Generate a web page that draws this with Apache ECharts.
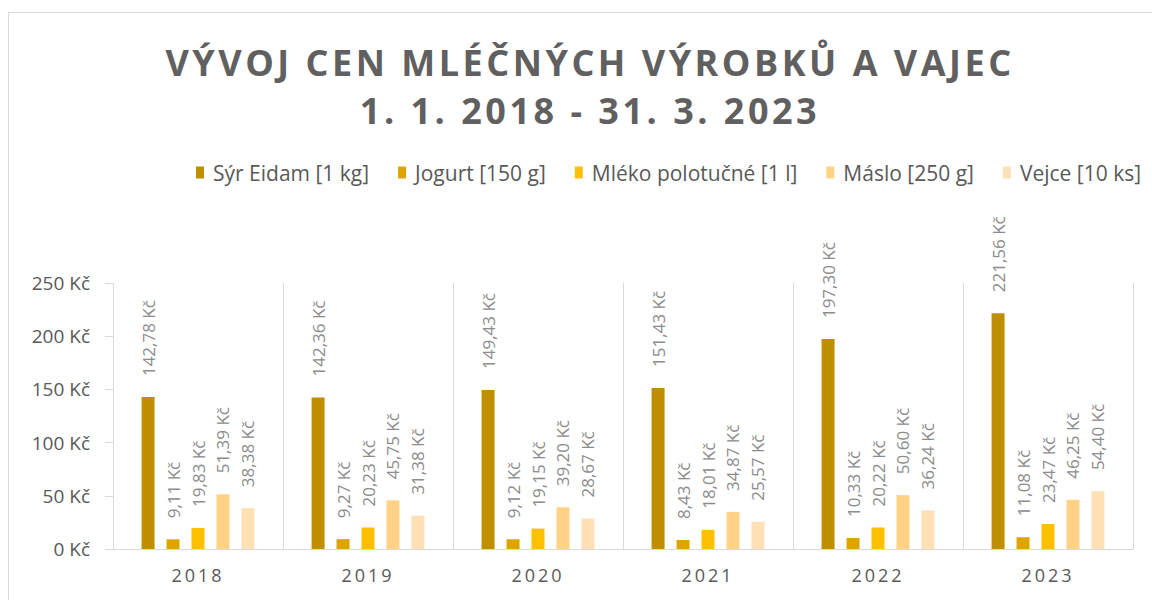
<!DOCTYPE html>
<html>
<head>
<meta charset="utf-8">
<script src="https://cdn.jsdelivr.net/npm/echarts@6/dist/echarts.min.js"></script>
<style>
	html, body { margin: 0; padding: 0; background: #fff; }
	#chart { width: 1152px; height: 600px; }
	.frame { position: absolute; left: 8px; top: 12px; width: 1200px; height: 700px; border: 1px solid #D9D9D9; pointer-events: none; }
</style>
</head>
<body>
<div class="frame"></div>
<div id="chart"></div>
<script>
	// data
	const years = ['2018', '2019', '2020', '2021', '2022', '2023'];
	const seriesNames = ['Sýr Eidam [1 kg]', 'Jogurt [150 g]', 'Mléko polotučné [1 l]', 'Máslo [250 g]', 'Vejce [10 ks]'];
	const syr = [142.78, 142.36, 149.43, 151.43, 197.30, 221.56];
	const jogurt = [9.11, 9.27, 9.12, 8.43, 10.33, 11.08];
	const mleko = [19.83, 20.23, 19.15, 18.01, 20.22, 23.47];
	const maslo = [51.39, 45.75, 39.20, 34.87, 50.60, 46.25];
	const vejce = [38.38, 31.38, 28.67, 25.57, 36.24, 54.40];
	const colors = ['#BF8F00', '#DEA500', '#FFC000', '#FFD286', '#FFE1B5'];
	const titleLines = ['VÝVOJ CEN MLÉČNÝCH VÝROBKŮ A VAJEC', '1. 1. 2018 - 31. 3. 2023'];

	const font = '"Open Sans", "DejaVu Sans", sans-serif';
	const kc = v => v.toFixed(2).replace('.', ',') + ' Kč';

	const allData = [syr, jogurt, mleko, maslo, vejce];

	let option = {
		animation: false,
		color: colors,
		title: {
			text: titleLines.join('\n'),
			left: 585,
			textAlign: 'center',
			top: 33,
			textStyle: {
				fontFamily: font,
				fontWeight: 'bold',
				fontSize: 36,
				lineHeight: 48,
				color: '#606060'
			}
		},
		legend: {
			data: seriesNames,
			left: 191,
			top: 157,
			itemWidth: 8,
			itemHeight: 12,
			itemGap: 29,
			icon: 'rect',
			textStyle: {
				fontFamily: font,
				fontSize: 21,
				color: '#595959',
				padding: [0, 0, 0, 4]
			}
		},
		grid: {
			left: 113,
			right: 19,
			top: 283,
			bottom: 51,
			containLabel: false
		},
		xAxis: {
			type: 'category',
			data: years,
			axisLine: { lineStyle: { color: '#D9D9D9', width: 1 } },
			axisTick: { show: false },
			splitLine: { show: true, interval: 0, lineStyle: { color: '#D9D9D9', width: 1 } },
			axisLabel: {
				fontFamily: font,
				fontSize: 18,
				color: '#595959',
				margin: 17
			}
		},
		yAxis: {
			type: 'value',
			min: 0,
			max: 250,
			interval: 50,
			axisLine: { show: true, lineStyle: { color: '#D9D9D9' } },
			axisTick: { show: true, length: 8, lineStyle: { color: '#D9D9D9' } },
			splitLine: { show: false },
			axisLabel: {
				fontFamily: font,
				fontSize: 19,
				color: '#595959',
				margin: 23,
				formatter: '{value} Kč'
			}
		},
		series: seriesNames.map((name, i) => ({
			name: name,
			type: 'bar',
			data: allData[i],
			barWidth: 13,
			barGap: '92%',
			itemStyle: { color: colors[i] },
			label: {
				show: true,
				position: 'top',
				rotate: 90,
				align: 'left',
				verticalAlign: 'middle',
				distance: 21,
				fontFamily: font,
				fontSize: 17,
				color: '#8C8C8C',
				formatter: p => kc(p.value)
			}
		}))
	};

	const chart = echarts.init(document.getElementById('chart'), null, { renderer: 'svg' });

	// letter spacing for title and year labels (not supported by ECharts itself)
	function spaceOut() {
		document.querySelectorAll('#chart text').forEach(t => {
			const s = t.textContent;
			if (titleLines.includes(s)) t.setAttribute('letter-spacing', '3.5px');
			else if (years.includes(s)) t.setAttribute('letter-spacing', '3px');
		});
	}
	chart.on('finished', spaceOut);
	chart.setOption(option);
	spaceOut();
	setTimeout(spaceOut, 50);
</script>
</body>
</html>
